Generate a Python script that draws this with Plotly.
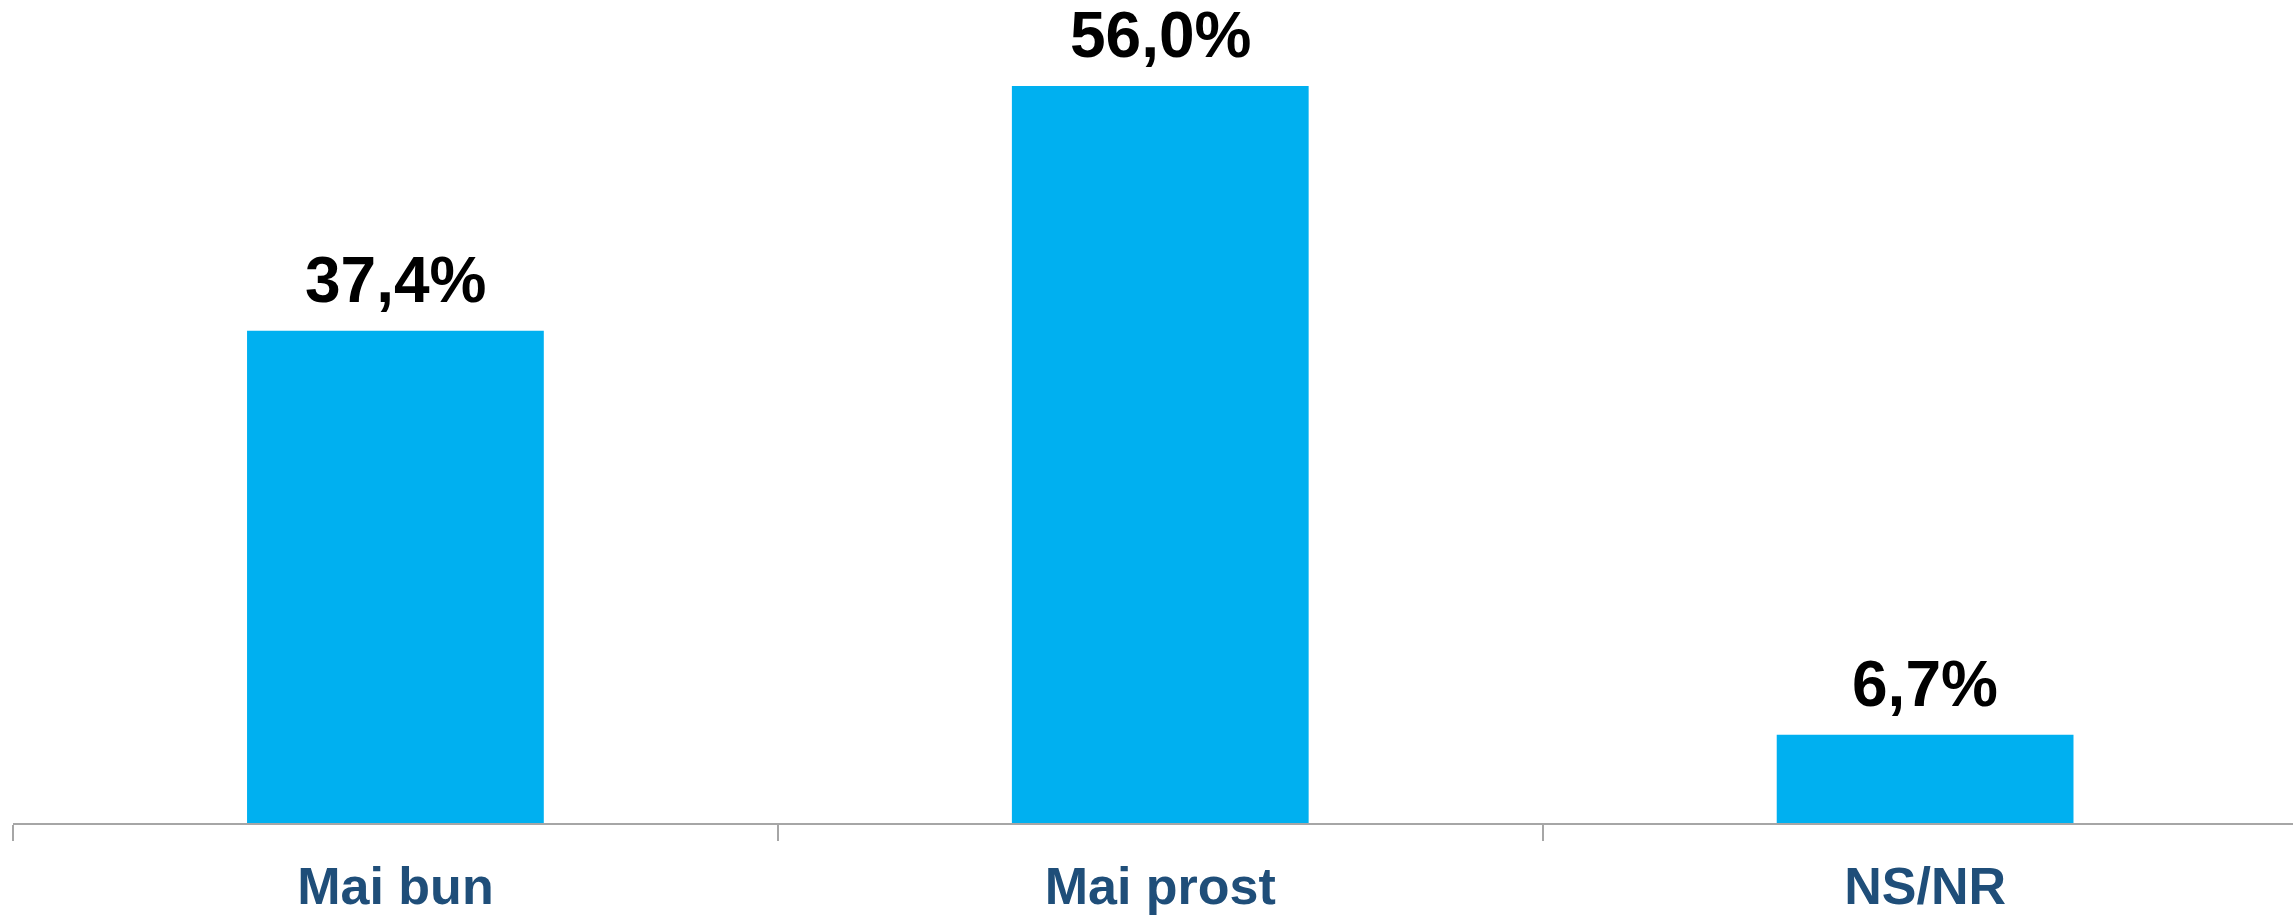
import plotly.graph_objects as go

categories = ["Mai bun", "Mai prost", "NS/NR"]
values = [37.4, 56.0, 6.7]
labels = ["37,4%", "56,0%", "6,7%"]

fig = go.Figure(go.Bar(
    x=categories, y=values, width=0.388,
    marker=dict(color="#00B0F0", line=dict(width=0)),
))

for c, v, t in zip(categories, values, labels):
    fig.add_annotation(
        x=c, y=v, text="<b>%s</b>" % t, showarrow=False,
        xanchor="center", yanchor="bottom", yshift=13,
        font=dict(family="Liberation Sans", size=64, color="#000000"),
    )

fig.update_layout(
    width=2293, height=915,
    margin=dict(l=13, r=0, t=0, b=89),
    paper_bgcolor="white", plot_bgcolor="white",
    showlegend=False,
    xaxis=dict(
        range=[-0.5, 2.481], showline=True, linecolor="#A6A6A6", linewidth=2,
        ticks="outside", tickson="boundaries", ticklen=16, tickcolor="#A6A6A6", tickwidth=2,
        tickfont=dict(family="Liberation Sans", size=52, color="#1F4E79", weight="bold"),
        ticklabelstandoff=17,
        showgrid=False, zeroline=False,
    ),
    yaxis=dict(range=[0, 62.53], visible=False, showgrid=False, zeroline=False),
)

fig.write_html(
    "out.html",
    config={"displayModeBar": False},
    post_script="document.body.style.margin='0';document.body.style.overflow='hidden';",
)
